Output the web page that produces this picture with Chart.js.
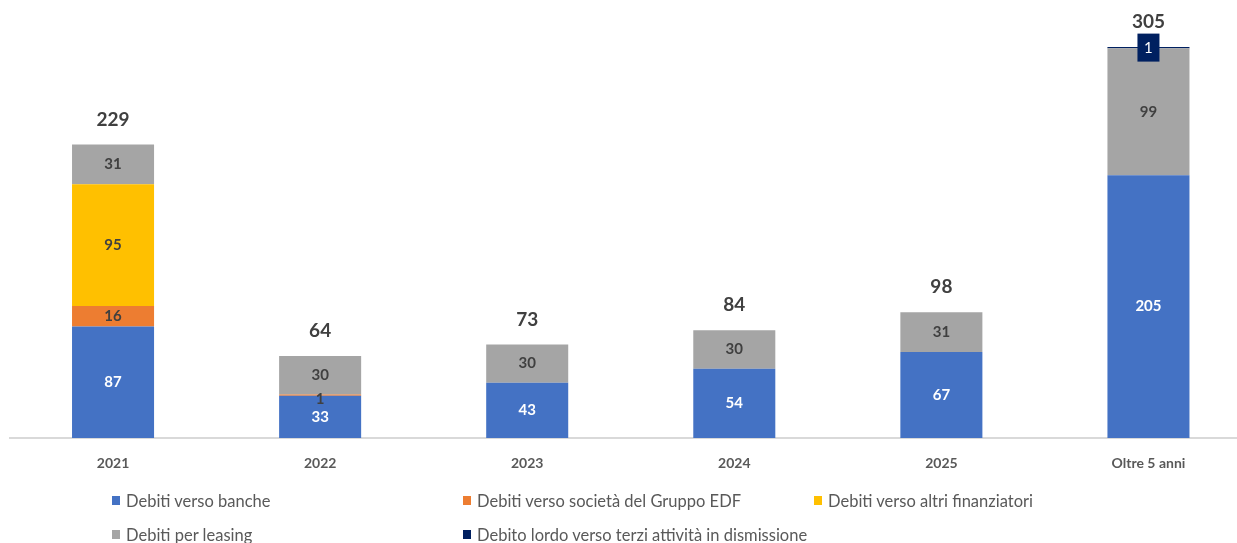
<!DOCTYPE html>
<html>
<head>
<meta charset="utf-8">
<script src="https://cdn.jsdelivr.net/npm/chart.js@4"></script>
<style>
  body { margin: 0; overflow: hidden; background: #fff; font-family: Lato, "Open Sans", sans-serif; }
  #wrap { position: absolute; left: 0; top: 0; width: 1252px; height: 478px; }
  #legend { position: absolute; left: 0; top: 0; width: 1237px; height: 543px; pointer-events: none; }
  .item { position: absolute; font-size: 16.5px; color: #595959; white-space: nowrap; line-height: 18px; }
  .item i { position: absolute; left: -14px; top: 4px; width: 8px; height: 9px; }
</style>
</head>
<body>
<div id="wrap"><canvas id="debt-chart" width="1252" height="478"></canvas></div>
<div id="legend"></div>
<script>
const years = ['2021', '2022', '2023', '2024', '2025', 'Oltre 5 anni'];

const seriesNames = [
  'Debiti verso banche',
  'Debiti verso società del Gruppo EDF',
  'Debiti verso altri finanziatori',
  'Debiti per leasing',
  'Debito lordo verso terzi attività in dismissione'
];

const banche     = [87, 33, 43, 54, 67, 205];
const gruppoEdf  = [16, 1, 0, 0, 0, 0];
const altriFin   = [95, 0, 0, 0, 0, 0];
const leasing    = [31, 30, 30, 30, 31, 99];
const dismissione = [0, 0, 0, 0, 0, 1];

const colors = ['#4472C4', '#ED7D31', '#FFC000', '#A5A5A5', '#002060'];
const seriesData = [banche, gruppoEdf, altriFin, leasing, dismissione];

const ctx = document.getElementById('debt-chart').getContext('2d');

// value labels inside segments + totals above each stack
const labelPlugin = {
  id: 'stackLabels',
  afterDatasetsDraw(chart) {
    const c = chart.ctx;
    const yScale = chart.scales.y;
    c.save();
    c.textAlign = 'center';
    c.textBaseline = 'middle';
    chart.data.datasets.forEach((ds, di) => {
      const meta = chart.getDatasetMeta(di);
      meta.data.forEach((bar, i) => {
        const v = ds.data[i];
        if (!v) return;
        const cy = (bar.y + bar.base) / 2;
        if (di === 4) {
          c.fillStyle = colors[4];
          c.fillRect(bar.x - 11, cy - 14, 22, 28);
          c.fillStyle = '#ffffff';
          c.font = '15px Lato';
          c.fillText(v, bar.x, cy + 1);
          return;
        }
        c.fillStyle = di === 0 ? '#ffffff' : '#404040';
        c.font = 'bold 15px Lato';
        c.fillText(v, bar.x, di === 1 && v < 5 ? cy + 4 : cy);
      });
    });
    const meta0 = chart.getDatasetMeta(0);
    years.forEach((_, i) => {
      const total = seriesData.reduce((s, arr) => s + arr[i], 0);
      const top = yScale.getPixelForValue(total);
      c.fillStyle = '#404040';
      c.font = 'bold 19px Lato';
      c.fillText(total, meta0.data[i].x, top - 25);
    });
    c.restore();
  }
};

const chart = new Chart(ctx, {
  type: 'bar',
  data: {
    labels: years,
    datasets: seriesNames.map((name, i) => ({
      label: name,
      data: seriesData[i],
      backgroundColor: colors[i],
      borderWidth: 0,
      barPercentage: 1,
      categoryPercentage: 82 / 207
    }))
  },
  options: {
    responsive: false,
    animation: false,
    layout: { padding: { top: 8.5, left: 9.5, right: 0, bottom: 0 } },
    plugins: { legend: { display: false }, tooltip: { enabled: false } },
    scales: {
      x: {
        stacked: true,
        grid: { display: false, drawTicks: false },
        border: { display: true, color: '#d9d9d9', width: 2 },
        ticks: { color: '#595959', font: { family: 'Lato', size: 14, weight: 'bold' }, padding: 17 },
        afterFit(scale) { scale.height = 40; }
      },
      y: {
        stacked: true,
        display: false,
        min: 0,
        max: 335
      }
    }
  },
  plugins: [labelPlugin]
});

// legend laid out in three columns, two rows
const legendPos = [[126, 492], [477, 492], [828, 492], [126, 526], [477, 526]];
const legendEl = document.getElementById('legend');
seriesNames.forEach((name, i) => {
  const el = document.createElement('div');
  el.className = 'item';
  el.style.left = legendPos[i][0] + 'px';
  el.style.top = legendPos[i][1] + 'px';
  el.innerHTML = '<i style="background:' + colors[i] + '"></i>' + name;
  legendEl.appendChild(el);
});
</script>
</body>
</html>
